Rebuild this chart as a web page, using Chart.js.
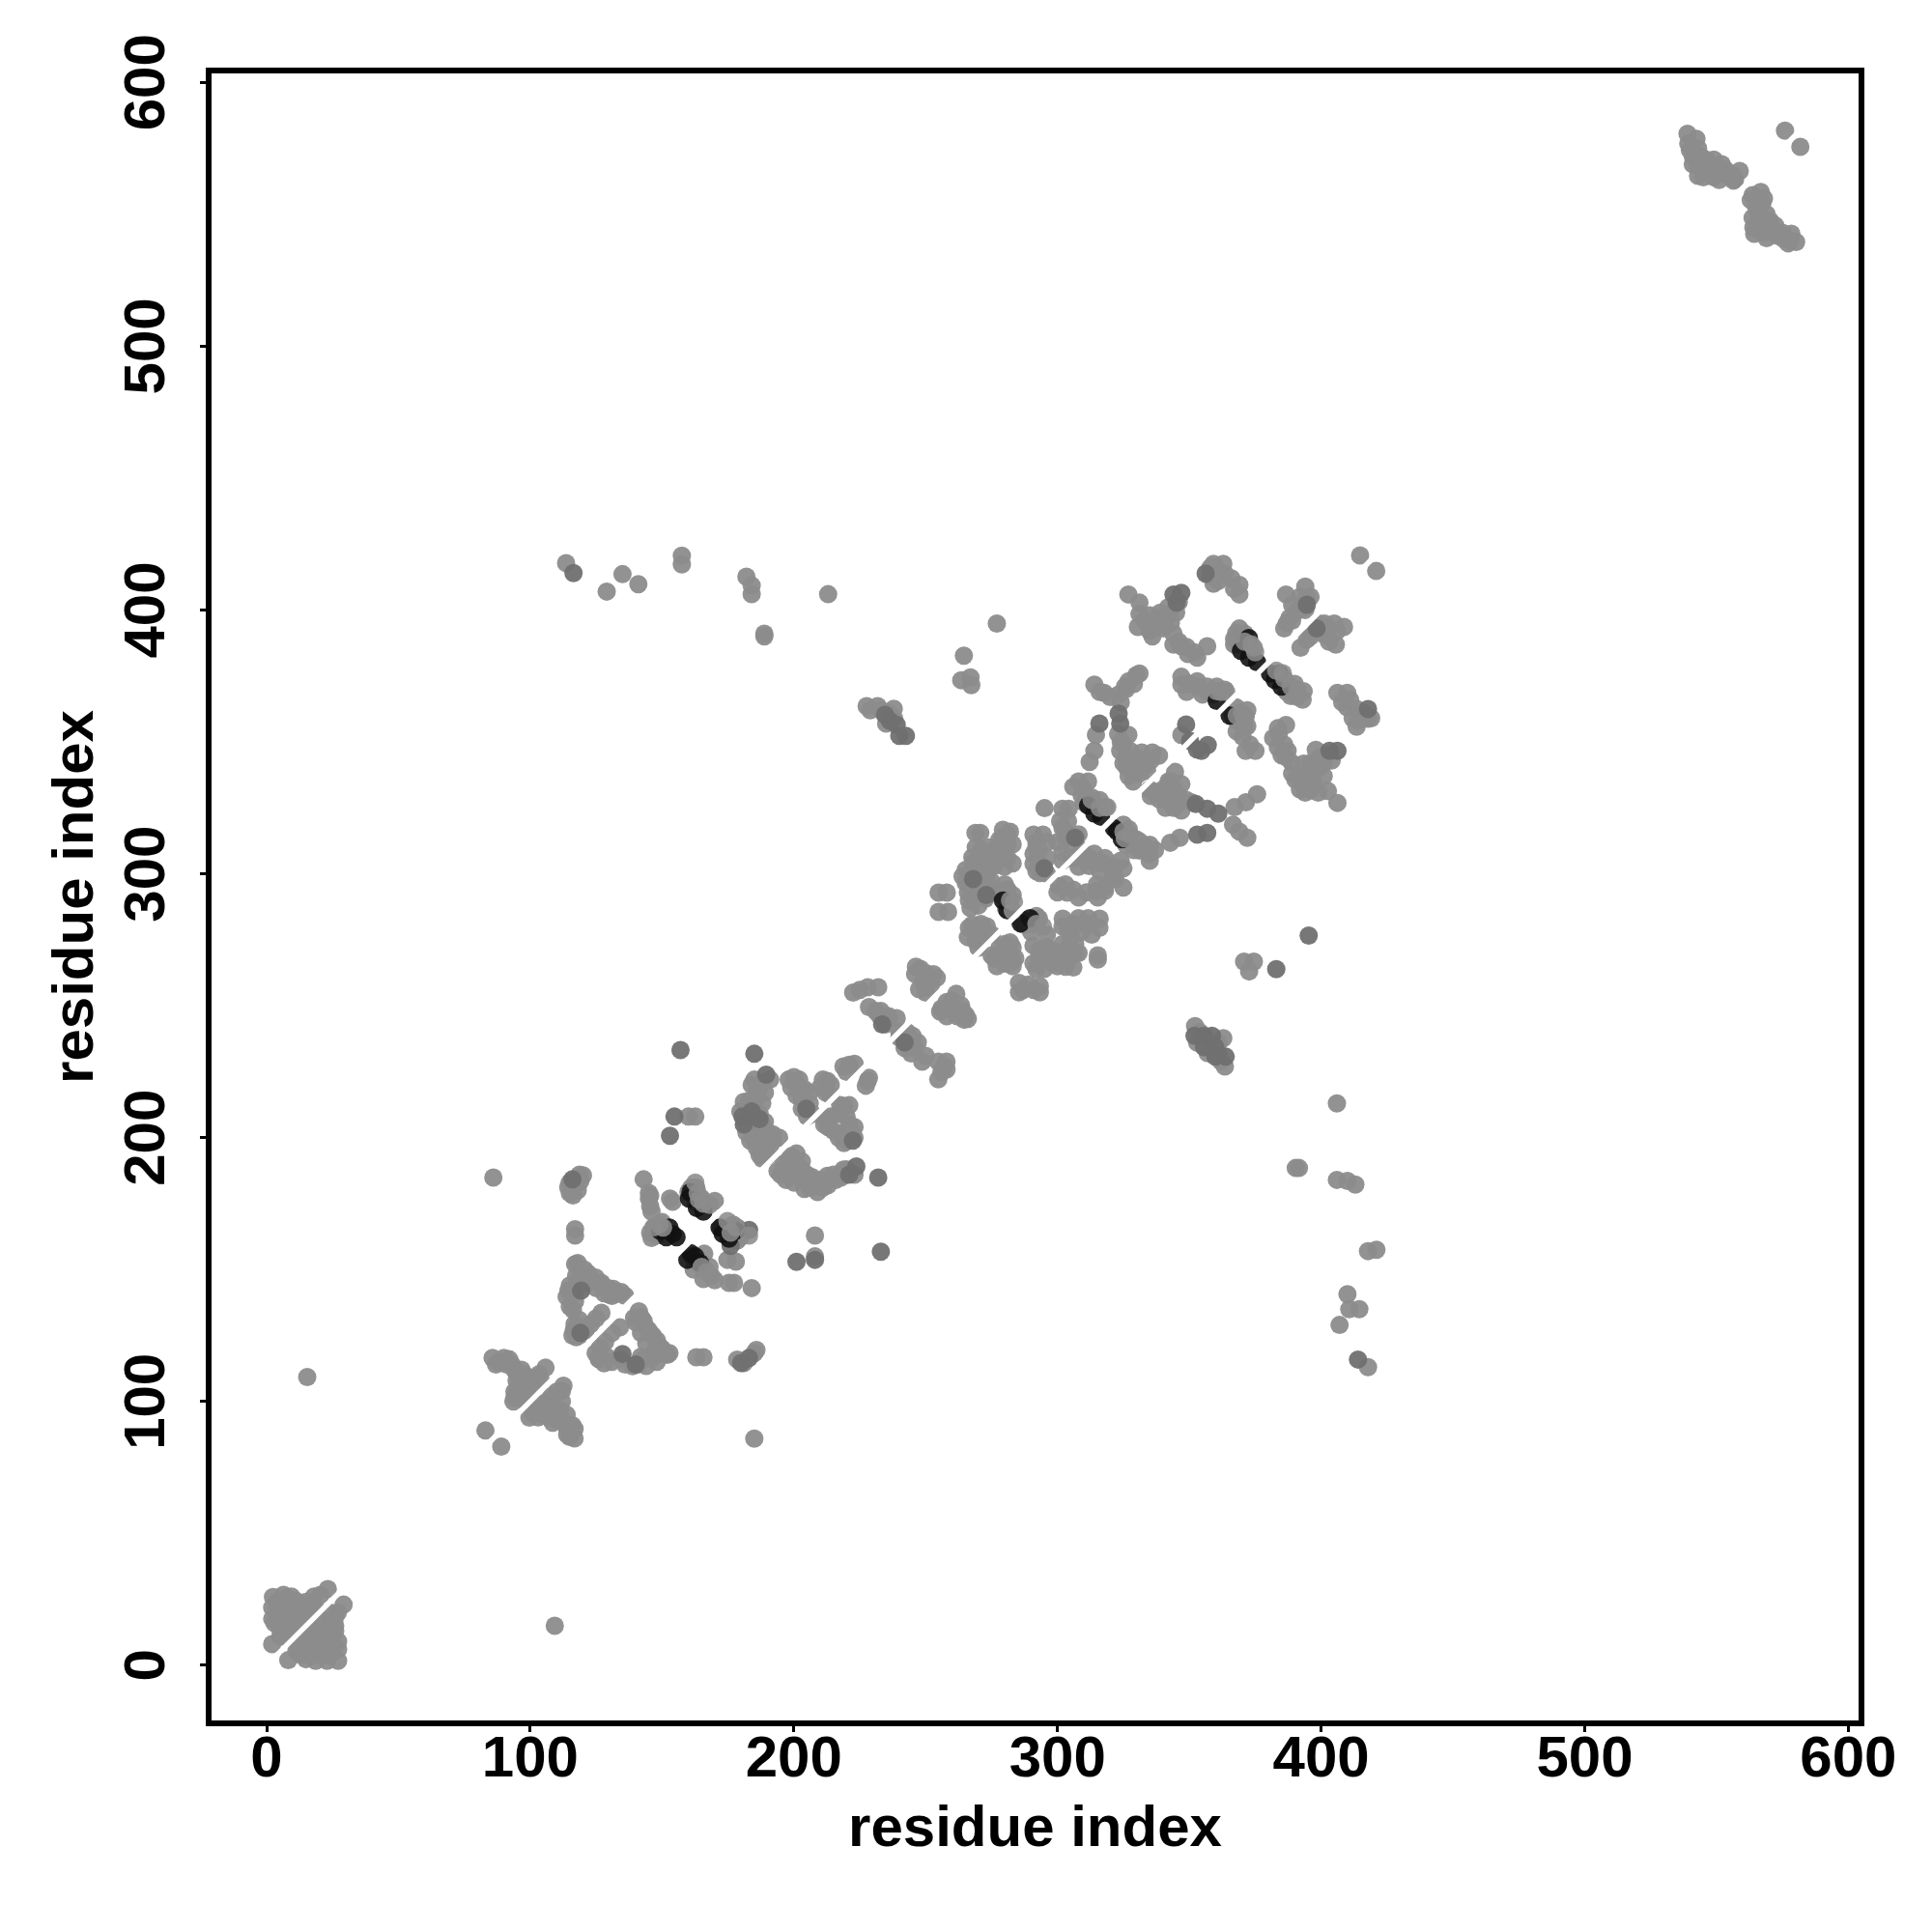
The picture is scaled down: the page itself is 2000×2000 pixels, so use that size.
<!DOCTYPE html>
<html>
<head>
<meta charset="utf-8">
<title>contact map</title>
<script src="https://cdn.jsdelivr.net/npm/chart.js@4/dist/chart.umd.min.js"></script>
<style>
body { margin: 0; background: #fff; }
canvas { display: block; }
</style>
</head>
<body>
<canvas id="chart" width="2000" height="2000"></canvas>
<script>
const tickValues = [0, 100, 200, 300, 400, 500, 600];
const xTitle = 'residue index';
const yTitle = 'residue index';

// white gap along the main diagonal
const diagonal = [[0, 0], [600, 600]];

// pairs as [residue x, residue y]
const contactsDark = [
  [152.8,165.9],[154,163.5],[155.5,162.3],[151.6,162.3],[149.2,164.7],
  [160.8,156.2],[159.6,153.7],[162.6,155],[164.4,152.5],
  [160.2,176.9],[163.2,173.3],[165.7,172],[160.8,179.4],
  [171.8,165.9],[173,163.5],[175.4,161.7],[177.9,164.7],
  [314,322.8],[316.5,321.6],[311.6,325.9],[322.6,316.1],[324.4,313.1],[321.4,317.3],
  [286,281.3],[289.6,283.2],[281,286.2],[279.3,289.9],
  [372.6,389.4],[372.6,382],[375.7,380.2],[369.6,384.5],
  [380.6,375.9],[382.4,373.5],[384.9,371],[384.2,375.9],
  [365.3,360],[360.4,365.6]
];

// lighter points that sit on top of the dark ones
const contactsTop = [
  [168,174.5],[165.7,175],[164,176.5],[162.6,183],[183,162.9],[176,164],[178,166],[174.8,168.4],[168.7,147.6],[167,149],[165,151],
  [147,166],[149,167],[150.4,165.9],[163.5,179],
  [318.3,325.3],[316,325],[318.9,325.3],[325,316],[327.5,314.9],[325.5,313.5],[331,312.4],[313,328],
  [283.5,289.3],[282,290],[292,281],[294.5,280.1],[283,286],
  [374.5,385.7],[373.5,387],[375,384],[371,388],[383,377],[386,374],[388.5,371],[391,369.8],[385.5,376],
  [370,361],[368,360],[370.8,358.8],[364,369],[362,369],[360.4,369.2]
];

const contactsMid = [
  [116.4,414],[119.3,142],[116,184.2],[180,114.6],[183,116.5],[208,153.7],
  [180.5,208],[181,205],[119,126],[135,118],[140,114],
  [233.5,242.9],[242,236.1],[232,184.9],[233,156.8],[201,152.9],
  [157,233.2],[185,231.8],[154.7,208],[153,200.7],
  [236.4,358],[239,356.5],[240,352.3],[242.5,352.3],[234.6,360.3],
  [352,238.6],[355.6,238.6],[355.6,234.3],[358.6,238.6],[359.9,234.3],[363.8,230.7],[359.9,230.7],
  [347,406.5],[345.2,402.8],[344,405.9],[356.2,413.8],[394.6,402],[398.3,393],
  [348.8,356.6],[357,348.8],[352.9,347.2],[350.3,350.4],[354.6,346.6],
  [323.2,360.7],[323.8,357],[315.9,357],[352.5,326.5],[356.8,324.7],[361,322.8],
  [353,314.9],[356.8,315.5],[414,115.9],[406.2,346.6],[403.2,346.6],[417.8,362.5],
  [295,302.1],[306.7,313.7],[273,292],[268,298],[189.5,223.9],[221,186],[223.7,189.1],
  [222.4,198.9],[204.7,211],[395.3,276.6],[383,263.9],
  [187,207],[184,210],[183,165],[176,159]
];

const contactsGrey = [
  // near the origin
  [2.4,25.9],[6.4,26.7],[9.4,26.1],[2.1,21.9],[2.1,17.6],[5.2,19.4],[8.8,21.9],[12.5,17.6],
  [18,26.1],[20.4,26.7],[23.2,28.9],[17.4,23],[7,13.3],[2.1,8],[5.2,10.9],[11.3,14.5],[13.7,15.7],
  [7.6,25.5],[11.3,24.3],[29.2,23],[25.9,18.2],[24.1,17],[21,15.7],[8.2,2],[11.3,5.4],[14.3,7.8],
  [18,10.9],[18.6,1.7],[22.9,1.7],[27.1,1.7],[27.1,6],[27.1,9],[23.5,7.2],[18,6],[21,10.9],[14.9,2.3],
  [4,24],[6,23],[8,24],[11,22],[4,21],[6,20],[9,19],[12,20],[14,21],[6,17],[8,16],[10,17],[14,18],
  [5,14],[8,12],[10,13],[15,24],[3,16],[16,20],[19,21],[6,11],[9,15],
  [13,4],[16,4],[19,4],[20,8],[23,4],[25,5],[25,9],[16,9],[14,10],[17,12],[22,13],[24,11],[26,13],
  [20,12],[19,14],[27,20],[24,20],[26,15],[12,7],[16,6],
  [15.4,109.3],[109.3,15],
  // around 100
  [85.7,116.5],[90,116.5],[93,114],[96.7,112],[94.8,108],[94,103.7],[93.6,100],[99,107.3],[102,109],
  [105.8,112.8],[103.4,110.4],[97.3,104.9],[112.6,106],[110,103.7],[106.4,100],[102.8,96.9],[99.7,93.9],
  [111.3,96.9],[113.8,95],[113.8,90.2],[116.8,89.6],[116.8,86],[115,86.6],[107,96.3],[105,95],
  [88,115],[91,114],[94,112],[96,109],[96,106],[96,102],[95,104],[98,110],[100,109],[97,101],[94,101.5],
  [104,108],[101,105],[99,103],[95,111],[92,116],[87,114],
  [112,104],[108,102],[104,99],[101,95.5],[109,98],[112,100],[110,93],[113,92],[115,88],[114,87.5],
  [103,94],[107,94],[108.5,92],[116,91],[111,96],[108,97],
  [83,89],[89,82.9],[185,85.9],[86,184.9],
  // triangles around 130
  [118,152.5],[117,152],[120.5,150],[124.8,147],[129.6,143],[134.5,141.5],[131.5,142.7],[127,145],
  [117.4,147.6],[115,144],[113.8,139.7],[116.8,141.5],[116.2,134.8],[116.8,129.3],[116,125],[120,126.9],
  [123,129.3],[127,133.6],[117.4,124.4],[141.2,134.2],[143,130.5],[145,126.9],[148,123.2],[152.8,118.3],
  [139.4,131.7],[152,117.7],[134,128.1],[128.4,122.6],[124.8,118.3],[129,117],[134.5,115.9],[138.8,113.4],
  [143,115.9],[146.7,117],[126,116.5],
  [122,148.5],[126.5,144.5],[133,141],[119,145.5],[117,138],[115,136],[114.5,142],[118.5,131],[116.5,127],
  [118.5,125],[121,127],[125,131.5],[130,140.5],[136,140],[119,147],[122,145],[125,143],[128,141],[131,140],
  [142,132],[144,128],[146.5,125],[150,120],[147,119],[149,121],[144,122],[142,126],[140,130],[131,126],
  [126.5,120.5],[126,116],[131,115],[136,114],[141,114],[144,113.5],[148,115],[142,117],[128,114.5],
  [117,165.3],[117,162.9],[118.7,186],[114.4,181.2],[116.2,178.1],[116.8,183],[120,185.7],
  [117,182],[118,180],[115,183],[119,183.5],[115,179],
  [163,116.8],[165.7,116.8],[178.5,115.9],[181,114.6],[185,118.3],[185.8,119.5],
  [208,162.9],[208,155],[162.6,208],[160,208],
  // around 165
  [160,179.4],[162.6,175.7],[166.3,174.5],[165,177],
  [178.5,165.9],[172.4,165.9],[179.7,162.3],[178.5,161],
  [146.7,165.9],[145.5,164],[161.4,155],[163.8,153.7],[165.7,146.4],[166.3,150],
  [143,184.2],[145,176.9],[145.5,178],[153,176.9],[154,175.7],
  [174.8,153.7],[178,153],[177.3,145],[175.4,145],[184,143],
  [150,168],[148,163],[146,162],[163,181],[161,181],[164,177],[170,176],[177,167],
  [162,150],[170,146],[168,151],[166,156],[146,172],[145.5,174],[145,179],
  // around 200
  [185,222],[185.8,217.2],[185,212.3],[181,213.5],[179.7,209.9],[184.6,202.6],[188.3,204.4],
  [192,201.3],[194.4,200],[187,193.4],[188,197.7],[183.4,198.9],
  [201,194],[198,191.6],[193.8,187.3],[203,187.9],[199,185.5],[204,180.6],[209,179.4],[212.7,185.5],
  [218.8,187.9],[216,184],[206.6,183],
  [212.7,221.5],[212,217.2],[198,222],[202,222],[204,218.4],[203,214.8],
  [221,212.3],[217.6,212.3],[211.5,205],[215,202.6],[221,205],[220,198.9],
  [221,227.6],[218.8,227],[228.5,222.7],[227.3,219.7],
  [184,220],[187,219],[186,215],[188,213],[183,214],[182,211],[187,209],[181,207],[183,204],[186,205],
  [189,206],[182,202],[185,199],[187,201],[190,202],[189,200],[192,199],[186,196],[189,195],[191,197],
  [188,192],[190,193],[191,222],[189,217],[188,221],
  [199,193],[201,190],[196,190],[195,186],[198,187],[201,186],[203,184],[200,183],[205,186],[206,181],
  [208,182],[211,181],[210,184],[213,182],[215,186],[218,185],[220,188],[223,186],[207,185],[203,191],[197,184],
  [199,219],[201,220],[201,216],[203,211],[206,217],[206,213],[207,209],[205,208],[210,219],[211,222],
  [214,220],[214,216],[200,223],
  [213,204],[212,207],[214,208],[217,209],[219,212],[220,208],[223,204],[223,200],[219,202],[222,202],[217,200],[219,198],
  [220,225],[223,228],[228,221.5],
  // around 240
  [222.5,255],[228,257],[232,257],[228.5,249.5],[232.3,246.5],[236,245.3],[239,245.3],[234.7,242.9],
  [245,238.6],[247,236.1],[244.5,231.9],[248.7,228.8],[254.8,228.8],[257.9,228.8],[257.9,225.8],[254.8,222.1],
  [246.3,264.8],[250,262.4],[254.2,260.6],[247.5,256.3],[250,255],[261.6,254.5],[258,251.4],[255.5,247.8],
  [259.1,249],[265.2,246.5],[264.6,244.7],[263.4,250.2],
  [225,256],[231,248],[233,248],[236,246],[240,240],[243,240],[245,236],[240,238],[242,234],[246,234],[250,231],
  [246,262],[249,259],[252,258],[250,257],[253,262],[248,264],[260,252],[262,248],[258,246],[256,249],[262,246],
  [264,248],[266,245],[257,227],[256,225],
  // around 300
  [268.9,315.5],[270.7,315.5],[279.3,316.7],[281,314.9],[283,311.2],[279.3,313.7],
  [267.7,306.3],[272.6,306.3],[265.2,301.5],[270,301.5],[273.8,301.5],[265.2,296.6],[267.7,292.9],
  [266.4,289.9],[272.6,290.5],[273.2,296],[279.9,302.7],[277.4,306.3],
  [254.9,292.9],[258,292.9],[254.9,285.6],[258.5,285.6],
  [281,294.1],[280,290.5],[280.5,286.8],
  [290.9,314.9],[294.5,314.9],[290.9,307.6],[290.9,303.9],[293.3,300.3],
  [295.1,324.9],[301.9,324.7],[304.3,324.7],[301.9,317.4],[301.9,308.2],[303,313.7],
  [308,302.7],[311,305.1],[314,307.6],[317.7,303.9],[325,302.1],[321.4,302.7],[325,294.8],
  [300.6,295.4],[303.7,292.9],[308,291.1],[314.7,293.5],[315.3,291.1],
  [287.2,280.7],[290.9,280.7],
  [280,273.4],[281.7,269.7],[275,269.1],[280,266],[281.5,266],
  [267.7,280.7],[273.2,280.1],[266.4,279.5],[268.9,274.6],[270.5,278.5],
  [290.9,272.8],[290.9,266.1],[295.8,272.2],[298.2,266.1],[303.1,264.8],[306.7,269.7],[301.9,280.1],
  [306.7,273.4],[301.9,273.4],[308,283.2],[311.6,283.2],[315.9,279.5],[315.3,269.1],[315.3,267.5],[310.4,280.7],
  [285.4,255.1],[285.4,258.7],[293.3,255.1],[293.3,257.5],
  [308,335],[311.6,335],[309.2,329.6],[314,325.9],
  [325,318.6],[332.4,311.2],[334.8,307.6],[331,308.8],
  [342.8,311.8],[346.4,313.7],[367.2,325.3],[371.5,327.1],[375.7,330.2],[366.6,318.6],[372,313.7],[369,316],
  [268,304],[271,304],[274,304],[267,299],[270,298],[273,299],[276,303],[268,295],[271,294],[274,293],[275,297],
  [264,299],[266,293],[269,291],[270,288],[267,287],[269,310],[271,309],[274,310],[276,309],[278,310],[280,309],
  [281,306],[283,304],[281,311],[278,313],[282,316],[280,296],[283,292],[282,287],[279,292],
  [292,312],[296,312],[292,310],[293,309],[296,306],[293,304],[296,300],[292,301],
  [301,320],[304,320],[303,316],[305,311],[308,315],[300,312],[302,305],[306,306],[309,309],[312,303],[315,304],
  [318,306],[321,299],[324,305],[322,298],[316,301],[312,306],[306,294],[300,293],[311,293],[318,293.5],[315,296],
  [318,295],[303,296],
  [292,284],[286,283],[290,278],[293,283],[296,277],
  [280,270],[278,272],[283,272],[276,268],[283,267],[277,265],[282,274],[284,268],[283,265],
  [266,276],[270,272],[272,277],[275,277],[269,278],[271,281],
  [293,268],[296,268],[293,271],[299,269],[302,268],[304,267],[306,264.5],[300,265],[303,271],[308,270],[305,276],
  [309,278],[312,281],[304,279],[313,277],[316,283],[302,283],[306,281],[298,271],[295,264],[292,264],
  [287,256],[291,256],[289,258],
  [306,333],[310,332],[313,329],[316,328],[312,326],[310,327],
  [327,317],[330,313],[329,309],[333,309],[335,311],[326,311],[335,305],[337,309],
  // lower outliers
  [370.8,266.7],[374.5,266.7],[372.7,263],
  [352.2,242.3],[362.9,237.7],[363.5,227],
  [354,240],[353,236],[357,236],[361,236],[361,232],[362,229],[357,232],
  [390.4,188.5],[391.6,188.5],[406,213],[406,184],[410,183.6],[413,182.2],[417.8,157],[421,157.5],
  [410,140.7],[410.7,135],[414.5,135],[407,129],[417.8,113],
  // around 380
  [326.9,405.9],[331.1,402.8],[331.1,398.5],[330.5,393.6],[336,390],[337.2,394.3],[342.7,398.5],
  [344,386.9],[347,386.3],[349.5,383.3],[353,382],[356.8,386.3],[352,384],
  [359.2,417.5],[362.9,417.5],[359.2,410],[363.5,413.8],[369,409.5],[369,405.9],
  [367.8,391.2],[369,393],[369,386.9],
  [393.4,369.2],[388.5,367.4],
  [386.7,405.9],[394,408.9],[394.6,404.6],[391,399.7],[386,393],[389,396],
  [392.2,385.7],[394.6,388.8],[401.3,394.9],[405,394.9],[408.7,393.6],[405.6,386.9],[401.3,390.6],
  [347,374.7],[347,371.7],[353,371],[356.8,371],[360.4,371],[363.5,369.8],[357,369],
  [367.8,363.1],[366.5,360],[371.4,359.5],[370.8,355.8],[370.2,352],[371.4,346.6],[375.1,346.6],
  [406.2,368.6],[409.9,368.6],[409.9,363.1],[413.5,362.5],[417.8,358.8],[413.5,355.8],[415,361],
  [414.8,420.7],[420.9,414.8],
  [386.7,356.4],[383.6,355.2],[381.8,351.5],[383.6,347.9],[387.3,346.6],[386.7,344.2],
  [393.4,341.8],[399.5,344.2],[392.2,336.9],[397,338],[394,330.8],[398.9,330.8],[402.6,331.4],[406.2,326.9],[390.3,335.6],
  [333,396],[335,398],[338,397],[340,393],[342,401],[345,399],[346,403],[343,395],[339,399],[335,392],[344,391],
  [341,394],[346,388],[349,386],
  [358,413],[361,414],[360,416],[361,411],[366,412],[367,408],[358,416],
  [367,389],[371,391],[367,387],
  [390,372],[391,367],[393,366],[387,369],
  [392,405],[393,401],[396,405],[394,400],[389,402],[388,397],[387,395],
  [396,390],[400,392],[403,388],[403,393],[406,392],[399,395],
  [350,372],[349,369],[355,368],[359,368],[353,373],
  [368,358],[369,361],[372,362],[368,354],[372,356],[373,349],
  [408,365],[412,359],[416,361],[419,359],[411,366],[414,358],
  [398,347],[404,343],[395,338],[394,335],[397,335],[401,337],[402,345],[396,342],[399,340],[392,332],[396,332],
  [396,340],[389,338],[401,342],[384,353],[386,349],[385,345],[389,342],
  // around 340
  [314,371.7],[317.7,368.6],[323.2,368],[325.6,371],[329.9,375.3],[331.1,375.9],
  [326.9,352.7],[314.6,352.7],[314,346.6],[312.2,342.4],[347,352.7],
  [323.8,346.6],[327.5,346.6],[338.5,344.8],[335.4,343],[331.1,341.8],[328.7,335],[326.2,340.5],
  [344.6,338.7],[342.1,335],[335.4,329.5],[345.8,329.5],[338.5,328.3],[347,324],
  [325,349],[326,344],[328,343],[330,344],[332,346],[325,342],[328,339],[331,338],[333,341],[336,346],[334,339],
  [327,337],[329,341],[324,350],[323,353],
  [343,335],[340,332],[337,331],[342,328],[344,332],[347,334],[349,328],[345,326],[340,330],[351,327],[335,332],
  [341,325],[344,325],
  [316,369],[320,367],[327,373],[324,365],[326,370],[329,372],
  // top-left outliers
  [113.6,417.8],[129,407],[135,413.6],[141,409.8],[157.5,420.6],[157.5,417.3],[182,412.6],[184,409.3],[184,406],
  [188.8,391],[188.8,390],[213,406],[277,394.9],[264.5,382.7],[263.5,373.4],[267,374.5],[267.3,371.5],
  [227.6,363.6],[231.8,363.6],[237.9,362.6],[229,362],[233,362],[236,361],[238,359],[235,357],
  // top right
  [539,580.5],[542.4,578.6],[539.3,576.8],[539.9,574.4],[543,575],[543,564.6],[543,568.2],[546,570.7],[549,570.7],
  [549,564],[553.3,567],[556.4,562.8],[558.8,566.4],[551,567],
  [563.7,557.3],[566.8,558.5],[567.4,554.2],[563,555.4],[563.7,548.7],[564.3,542.6],[568,543.2],[570.4,547.5],
  [572.3,545.7],[575.3,540.8],[578.4,542.6],[580.2,539.5],[577.2,539],
  [541,572],[544,572],[541,569],[546,567],[545,564],[548,568],[551,563],[554,565],[552,569],[556,565],[557,563],
  [565,553],[566,550],[566,546],[569,550],[566,544],[570,544],[573,542],[569,541],[575,543],[578,540],[564,545],[568,556],
  [576,581.7],[581.8,575.6]
];

function pts(list) {
  return list.map(function(p) { return { x: p[0], y: p[1] }; });
}

// frame around the plot, as in base R graphics
const framePlugin = {
  id: 'frame',
  afterDraw: function(chart) {
    const a = chart.chartArea;
    const ctx = chart.ctx;
    ctx.save();
    ctx.strokeStyle = '#000';
    ctx.lineWidth = 6;
    ctx.strokeRect(a.left, a.top, a.right - a.left, a.bottom - a.top);
    ctx.restore();
  }
};

function setTicks(scale) {
  scale.ticks = tickValues.map(function(v) { return { value: v }; });
}

const labelFont = { family: '"Liberation Sans"', size: 60, weight: 'bold' };

new Chart(document.getElementById('chart').getContext('2d'), {
  type: 'scatter',
  data: {
    datasets: [
      { data: pts(contactsGrey), backgroundColor: 'rgba(140,140,140,0.95)', pointRadius: 9.5, borderWidth: 0, order: 5 },
      { data: pts(contactsMid), backgroundColor: 'rgba(112,112,112,0.95)', pointRadius: 9.5, borderWidth: 0, order: 4 },
      { data: pts(contactsDark), backgroundColor: 'rgba(18,18,18,0.9)', pointRadius: 9.5, borderWidth: 0, order: 3 },
      { data: pts(contactsTop), backgroundColor: 'rgba(140,140,140,0.88)', pointRadius: 9.5, borderWidth: 0, order: 2 },
      { data: pts(diagonal), showLine: true, borderColor: '#fff', borderWidth: 5.5, pointRadius: 0, order: 1 }
    ]
  },
  plugins: [framePlugin],
  options: {
    responsive: false,
    animation: false,
    layout: { padding: { top: 73, right: 73, left: 0, bottom: 0 } },
    plugins: { legend: { display: false }, tooltip: { enabled: false } },
    scales: {
      x: {
        type: 'linear',
        min: -22,
        max: 605,
        afterBuildTicks: setTicks,
        afterFit: function(s) { s.height = 216; },
        border: { display: false },
        grid: { drawOnChartArea: false, color: '#000', tickColor: '#000', tickLength: 9, lineWidth: 3, tickWidth: 3 },
        ticks: { color: '#000', font: labelFont, padding: -7, autoSkip: false, maxRotation: 0, minRotation: 0 },
        title: { display: true, text: xTitle, color: '#000', font: labelFont, padding: { top: 0, bottom: 69.5 } }
      },
      y: {
        type: 'linear',
        min: -22,
        max: 604.5,
        afterBuildTicks: setTicks,
        afterFit: function(s) { s.width = 216; },
        border: { display: false },
        grid: { drawOnChartArea: false, color: '#000', tickColor: '#000', tickLength: 9, lineWidth: 3, tickWidth: 3 },
        ticks: { color: '#000', font: labelFont, padding: 3, autoSkip: false, minRotation: 90, maxRotation: 90, crossAlign: 'center' },
        title: { display: true, text: yTitle, color: '#000', font: labelFont, padding: { top: 43, bottom: 0 } }
      }
    }
  }
});
</script>
</body>
</html>
